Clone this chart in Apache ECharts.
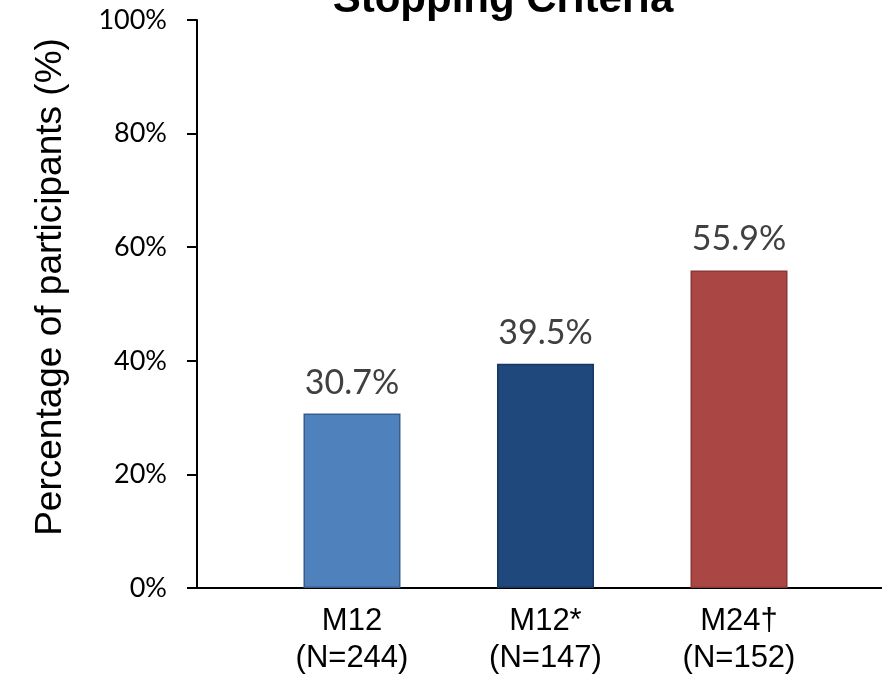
<!DOCTYPE html>
<html>
<head>
<meta charset="utf-8">
<script src="https://cdn.jsdelivr.net/npm/echarts@6/dist/echarts.min.js"></script>
<style>
  html, body { margin: 0; padding: 0; background: #fff; }
  #chart { width: 882px; height: 677px; }
</style>
</head>
<body>
<div id="chart"></div>
<script>
// Share of participants meeting the stopping criteria, per visit group
const categories = ['M12\n(N=244)', 'M12*\n(N=147)', 'M24\u2020\n(N=152)'];
const values = [30.7, 39.5, 55.9];
const barColors = ['#4F81BD', '#1F497D', '#AA4744'];
const borderColors = ['#385D8A', '#173760', '#8C3836'];
const yTicks = [0, 20, 40, 60, 80, 100];

// Category positions on a numeric x axis (1, 2, 3), so the axis line can run past the bars
const positions = categories.map((_, i) => i + 1);

const chart = echarts.init(document.getElementById('chart'));
chart.setOption({
  animation: false,
  title: {
    text: 'Stopping Criteria',
    left: 498,
    textAlign: 'center',
    top: -26,
    textStyle: { fontFamily: 'Liberation Sans', fontSize: 42, fontWeight: 'bold', color: '#000' }
  },
  grid: { left: 197, right: 0, top: 20, bottom: 87, containLabel: false },
  xAxis: {
    type: 'value',
    min: 0.199,
    max: 3.739,
    splitLine: { show: false },
    axisLine: { show: true, lineStyle: { color: '#000', width: 2 } },
    axisTick: { show: false },
    axisLabel: {
      customValues: positions,
      margin: 15,
      fontFamily: 'Liberation Sans',
      fontSize: 31,
      lineHeight: 37,
      color: '#000',
      formatter: v => categories[Math.round(v) - 1] || ''
    }
  },
  yAxis: {
    type: 'value',
    min: 0,
    max: 100,
    interval: 20,
    name: 'Percentage of participants (%)',
    nameLocation: 'middle',
    nameGap: 128,
    nameTextStyle: { fontFamily: 'Liberation Sans', fontSize: 37, color: '#000', padding: [0, 0, 0, 34] },
    splitLine: { show: false },
    axisLine: { show: true, lineStyle: { color: '#000', width: 2 } },
    axisTick: { show: true, length: 10, lineStyle: { color: '#000', width: 2 } },
    axisLabel: {
      margin: 30,
      fontFamily: 'Lato',
      fontSize: 27,
      color: '#000',
      formatter: v => yTicks.includes(v) ? v + '%' : ''
    }
  },
  series: [{
    type: 'bar',
    barWidth: 97,
    data: values.map((v, i) => ({
      value: [positions[i], v],
      itemStyle: { color: barColors[i], borderColor: borderColors[i], borderWidth: 1.5 }
    })),
    label: {
      show: true,
      position: 'top',
      distance: 14,
      fontFamily: 'Lato',
      fontSize: 34,
      color: '#404040',
      formatter: p => p.value[1].toFixed(1) + '%'
    }
  }]
});
</script>
</body>
</html>
